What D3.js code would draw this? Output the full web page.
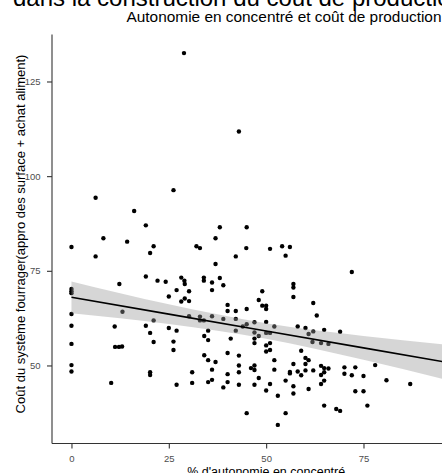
<!DOCTYPE html>
<html>
<head>
<meta charset="utf-8">
<script src="https://cdn.jsdelivr.net/npm/d3@7"></script>
<style>
  body { margin: 0; background: #fff; overflow: hidden; }
  svg { display: block; font-family: "Liberation Sans", Arial, sans-serif; }
</style>
</head>
<body>
<svg id="chart" width="442" height="473"></svg>
<script>
// % d'autonomie en concentré (x) et coût du système fourrager (y)
const autonomie = [
  28.9, 43.0, 26.2, 6.2, 16.1,
  19.1, 8.2, 14.3, 38.1, 45.0, 37.0, 44.9, 0, 21.1, 20.2, 32.1, 33.0, 6.2, 42.2, 37.0,
  19.1, 22.1, 24.2, 28.2, 29.0, 29.1, 34.0, 34.0, 36.1, 38.1, 39.0, 12.3, 27.0, 30.2, 36.1,
  0, 0, 0,
  25.0, 29.1, 28.2, 30.2, 40.1, 40.1, 42.2, 45.0, 48.1, 0, 13.1, 21.1, 30.2, 33.0, 33.0, 34.0,
  36.1, 39.0, 42.2, 42.2, 44.0, 45.0, 47.0, 47.0, 48.1, 0, 11.1, 19.1, 20.2, 25.0, 27.0, 34.1,
  35.1, 35.1, 40.9, 47.0, 47.0, 0, 11.2, 12.2, 13.0, 21.1, 26.2, 26.2, 34.1, 35.1, 37.0, 40.1,
  43.0, 43.0, 46.1, 47.0, 47.0, 48.1, 0, 0, 20.2, 20.2, 10.2, 27.0, 31.0, 31.0, 36.1, 35.1,
  36.1, 39.0, 40.1, 40.1, 43.0, 43.0, 47.0, 45.0,
  51.0, 54.1, 56.1, 55.0, 72.0, 57.0, 57.0, 57.0, 49.0, 49.0, 50.0, 50.0, 62.1, 63.0, 50.0,
  52.1, 58.1, 60.1, 62.1, 60.9, 64.9, 69.0, 50.0, 51.0, 61.9, 64.1, 66.0, 51.0, 50.0, 50.0,
  51.0, 59.0, 60.1, 60.9, 60.1, 57.0, 52.1, 52.1, 51.0, 50.0, 53.0, 55.0, 56.1, 56.1, 57.0,
  57.0, 58.1, 59.0, 60.1, 60.9, 62.1, 64.1, 64.9, 64.1, 64.9, 66.0, 64.9, 64.1, 70.1, 72.9,
  70.1, 72.0, 75.0, 72.9, 75.0, 78.0, 80.9, 87.0, 64.9, 68.0, 69.0, 76.0, 55.0, 53.0
];
const cout = [
  132.5, 111.8, 96.3, 94.3, 90.8,
  87.0, 83.6, 82.7, 86.5, 86.5, 83.6, 81.0, 81.3, 81.5, 79.7, 81.5, 81.0, 78.8, 78.8, 76.8,
  73.5, 72.4, 72.1, 73.2, 72.4, 71.5, 73.2, 72.4, 71.9, 73.1, 71.2, 71.5, 69.9, 69.6, 69.9,
  70.2, 69.6, 69.1,
  68.2, 67.7, 66.9, 67.0, 66.0, 64.4, 64.4, 64.9, 67.3, 63.6, 64.2, 61.9, 63.0, 62.9, 61.9, 61.9,
  63.0, 62.3, 62.3, 59.2, 60.3, 60.9, 61.4, 58.7, 57.8, 60.5, 60.3, 60.5, 58.6, 59.9, 59.2, 57.8,
  59.2, 56.7, 57.1, 57.1, 55.9, 55.7, 54.9, 54.9, 55.0, 56.2, 56.3, 54.1, 52.7, 51.4, 50.9, 53.3,
  52.6, 50.0, 49.3, 50.0, 48.8, 46.7, 50.1, 48.4, 48.2, 47.5, 45.4, 44.9, 48.2, 45.4, 48.9, 45.6,
  46.2, 44.2, 47.7, 45.6, 48.2, 44.9, 44.9, 37.4,
  80.8, 81.5, 81.3, 79.0, 74.7, 71.5, 70.6, 68.1, 69.6, 65.8, 65.8, 64.9, 66.5, 63.2, 61.5,
  60.3, 60.3, 59.9, 59.0, 58.3, 59.4, 58.9, 58.6, 58.6, 56.2, 55.9, 55.7, 55.9, 55.3, 53.7,
  54.1, 53.9, 52.0, 51.4, 50.4, 50.4, 51.4, 48.9, 45.1, 43.4, 42.0, 46.0, 47.9, 48.3, 44.5,
  42.6, 48.4, 47.4, 48.7, 43.8, 48.7, 49.9, 49.3, 47.5, 48.2, 49.2, 46.0, 45.1, 49.5, 49.5,
  47.8, 47.4, 47.2, 43.2, 43.2, 50.1, 46.1, 45.1, 39.4, 38.5, 38.0, 39.4, 37.4, 34.3
];

// droite de tendance (lm) et bande de confiance
const tendanceX = [0, 25, 50, 75, 100];
const tendance  = [68.0, 63.55, 59.1, 54.65, 50.2];
const bandeBas  = [63.8, 60.95, 57.05, 51.5, 45.25];
const bandeHaut = [72.2, 66.15, 61.15, 57.8, 55.15];

const xDomain = [-5, 105];
const xTicks = [0, 25, 50, 75];
const yTicks = [50, 75, 100, 125];

const titre = "dans la construction du coût de production";
const sousTitre = "Autonomie en concentré et coût de production";
const xLabel = "% d'autonomie en concentré";
const yLabel = "Coût du système fourrager(appro des surface + achat aliment)";

const svg = d3.select("#chart");
const panel = { left: 52, right: 480.3, top: 34.5, bottom: 443.5 };

const yExt = d3.extent(cout);
const yPad = (yExt[1] - yExt[0]) * 0.05;
const x = d3.scaleLinear().domain(xDomain).range([panel.left, panel.right]);
const y = d3.scaleLinear().domain([yExt[0] - yPad, yExt[1] + yPad]).range([panel.bottom, panel.top]);

const points = autonomie.map((v, i) => ({ x: v, y: cout[i] }));
const fit = tendanceX.map((v, i) => ({ x: v, y: tendance[i], lo: bandeBas[i], hi: bandeHaut[i] }));

// titres
svg.append("text").attr("x", 13).attr("y", 5.5)
  .attr("font-size", 24).attr("fill", "#000").text(titre);
svg.append("text").attr("x", 441.5).attr("y", 22).attr("text-anchor", "end")
  .attr("font-size", 14).attr("textLength", 315).attr("lengthAdjust", "spacingAndGlyphs")
  .attr("fill", "#000").text(sousTitre);

// points
svg.append("g").selectAll("circle").data(points).enter()
  .append("circle")
  .attr("cx", d => x(d.x))
  .attr("cy", d => y(d.y))
  .attr("r", 2.2)
  .attr("fill", "#000");

// bande de confiance
svg.append("path").datum(fit)
  .attr("fill", "#999999").attr("fill-opacity", 0.4)
  .attr("d", d3.area().curve(d3.curveMonotoneX)
    .x(d => x(d.x)).y0(d => y(d.lo)).y1(d => y(d.hi)));

// droite
svg.append("path").datum(fit)
  .attr("fill", "none").attr("stroke", "#000").attr("stroke-width", 1.6)
  .attr("d", d3.line().x(d => x(d.x)).y(d => y(d.y)));

// axes
const xAxis = svg.append("g").attr("transform", `translate(0,${panel.bottom})`)
  .call(d3.axisBottom(x).tickValues(xTicks).tickSize(5).tickPadding(7).tickSizeOuter(0));
const yAxis = svg.append("g").attr("transform", `translate(${panel.left},0)`)
  .call(d3.axisLeft(y).tickValues(yTicks).tickSize(5).tickPadding(6.5).tickSizeOuter(0));
[xAxis, yAxis].forEach(g => {
  g.select(".domain").attr("stroke", "#333").attr("stroke-width", 1.1);
  g.selectAll(".tick line").attr("stroke", "#333").attr("stroke-width", 1.1);
  g.selectAll(".tick text").attr("fill", "#4d4d4d").attr("font-size", 9.5)
    .attr("font-family", "Liberation Sans, Arial, sans-serif");
});
xAxis.select(".domain").attr("d", `M${panel.left},0H${panel.right}`);
yAxis.select(".domain").attr("d", `M0,${panel.top}V${panel.bottom}`);

// titres des axes
svg.append("text").attr("x", (panel.left + panel.right) / 2).attr("y", 476)
  .attr("text-anchor", "middle").attr("font-size", 12.5).attr("fill", "#000").text(xLabel);
svg.append("text")
  .attr("transform", "translate(24.5,234) rotate(-90)")
  .attr("text-anchor", "middle").attr("font-size", 13).attr("fill", "#000").text(yLabel);
</script>
</body>
</html>
